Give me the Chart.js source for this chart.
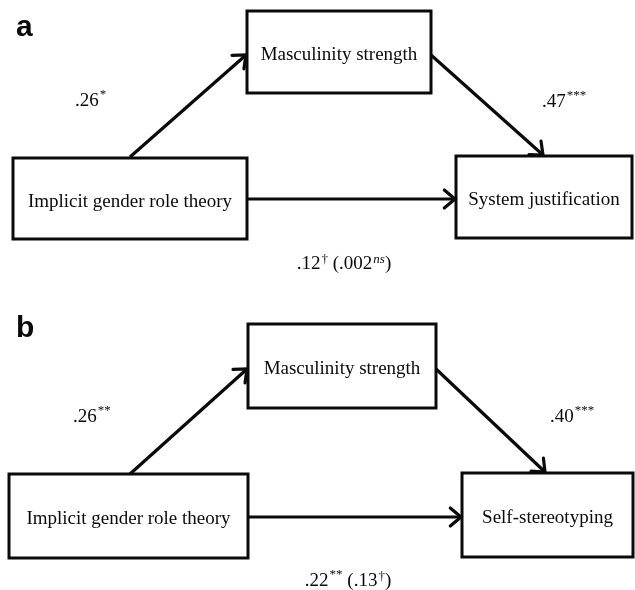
<!DOCTYPE html>
<html>
<head>
<meta charset="utf-8">
<script src="https://cdn.jsdelivr.net/npm/chart.js@4/dist/chart.umd.min.js"></script>
<style>
  html, body { margin: 0; padding: 0; background: #ffffff; }
  #c { display: block; }
</style>
</head>
<body>
<canvas id="c" width="635" height="590"></canvas>
<script>
// ---------- data ----------
const panelLetters    = ['a', 'b'];
const predictorLabels = ['Implicit gender role theory', 'Implicit gender role theory'];
const mediatorLabels  = ['Masculinity strength', 'Masculinity strength'];
const outcomeLabels   = ['System justification', 'Self-stereotyping'];
const pathAValues     = ['.26', '.26'];
const pathAStars      = ['*', '**'];
const pathBValues     = ['.47', '.40'];
const pathBStars      = ['***', '***'];
const totalValues     = ['.12', '.22'];
const totalStars      = ['\u2020', '**'];
const directValues    = ['.002', '.13'];
const directStars     = ['ns', '\u2020'];

// ---------- layout (diagram coordinates, y grows downward) ----------
const layout = [
  {
    letter: [16, 36],
    pred: [13, 158, 247, 239], med: [247, 11, 431, 93], out: [456, 156, 632, 238],
    arrows: [[[130, 157], [246, 55]], [[431, 55], [543, 155]], [[247, 199], [455, 199]]],
    aLab: [75, 106], bLab: [542, 107], cLab: [344, 269]
  },
  {
    letter: [16, 337],
    pred: [9, 474, 248, 558], med: [248, 324, 436, 408], out: [462, 473, 633, 557],
    arrows: [[[130, 474], [247, 369]], [[436, 369], [545, 472]], [[248, 517], [461, 517]]],
    aLab: [73, 422], bLab: [550, 422], cLab: [348, 586]
  }
];

const SERIF = '"Liberation Serif", "Times New Roman", serif';
const INK = '#0a0a0a';

function boxPts(r) {
  return [{x:r[0],y:r[1]},{x:r[2],y:r[1]},{x:r[2],y:r[3]},{x:r[0],y:r[3]},{x:r[0],y:r[1]}];
}

const datasets = [];
layout.forEach(p => {
  [p.pred, p.med, p.out].forEach(r => datasets.push({
    data: boxPts(r), showLine: true, borderColor: INK, borderWidth: 3,
    pointRadius: 0, borderJoinStyle: 'miter', borderCapStyle: 'square', tension: 0
  }));
  p.arrows.forEach(a => datasets.push({
    data: [{x:a[0][0],y:a[0][1]},{x:a[1][0],y:a[1][1]}], showLine: true,
    borderColor: INK, borderWidth: 3.2, pointRadius: 0, borderCapStyle: 'butt'
  }));
});

function segs(val, stars, extra, extraStars) {
  const s = [{t: val}, {t: stars, sup: true}];
  if (extra !== undefined) {
    s.push({t: ' (' + extra});
    s.push({t: extraStars, sup: true, italic: extraStars === 'ns'});
    s.push({t: ')'});
  }
  return s;
}

function drawRich(ctx, parts, x, y, align) {
  const mainFont = '19px ' + SERIF;
  const supFont = p => (p.italic ? 'italic ' : '') + '13px ' + SERIF;
  const widths = parts.map(p => {
    ctx.font = p.sup ? supFont(p) : mainFont;
    return ctx.measureText(p.t).width + (p.sup ? 1 : 0);
  });
  const total = widths.reduce((a, b) => a + b, 0);
  let cx = align === 'center' ? x - total / 2 : x;
  parts.forEach((p, i) => {
    ctx.font = p.sup ? supFont(p) : mainFont;
    const raise = p.sup ? (p.t.indexOf('*') >= 0 ? 8 : 6) : 0;
    ctx.fillText(p.t, cx + (p.sup ? 1 : 0), y - raise);
    cx += widths[i];
  });
}

const diagramPlugin = {
  id: 'diagram',
  afterDatasetsDraw(chart) {
    const ctx = chart.ctx;
    const X = v => chart.scales.x.getPixelForValue(v);
    const Y = v => chart.scales.y.getPixelForValue(v);
    ctx.save();
    ctx.fillStyle = INK;
    ctx.strokeStyle = INK;
    layout.forEach((p, i) => {
      // arrowheads (open chevrons)
      p.arrows.forEach(a => {
        const x1 = X(a[0][0]), y1 = Y(a[0][1]), x2 = X(a[1][0]), y2 = Y(a[1][1]);
        const ang = Math.atan2(y2 - y1, x2 - x1);
        const L = 14, spread = 0.7;
        ctx.lineWidth = 3.2;
        ctx.lineCap = 'round';
        ctx.lineJoin = 'miter';
        ctx.beginPath();
        ctx.moveTo(x2 - L * Math.cos(ang - spread), y2 - L * Math.sin(ang - spread));
        ctx.lineTo(x2, y2);
        ctx.lineTo(x2 - L * Math.cos(ang + spread), y2 - L * Math.sin(ang + spread));
        ctx.stroke();
      });
      // panel letter
      ctx.font = 'bold 30px "Liberation Sans", Arial, sans-serif';
      ctx.textAlign = 'left';
      ctx.textBaseline = 'alphabetic';
      ctx.fillText(panelLetters[i], X(p.letter[0]), Y(p.letter[1]));
      // box labels
      ctx.font = '19px ' + SERIF;
      ctx.textAlign = 'center';
      [[p.pred, predictorLabels[i]], [p.med, mediatorLabels[i]], [p.out, outcomeLabels[i]]].forEach(([r, t]) => {
        ctx.fillText(t, X((r[0] + r[2]) / 2), Y((r[1] + r[3]) / 2) + 8);
      });
      // coefficients
      ctx.textAlign = 'left';
      drawRich(ctx, segs(pathAValues[i], pathAStars[i]), X(p.aLab[0]), Y(p.aLab[1]), 'left');
      drawRich(ctx, segs(pathBValues[i], pathBStars[i]), X(p.bLab[0]), Y(p.bLab[1]), 'left');
      drawRich(ctx, segs(totalValues[i], totalStars[i], directValues[i], directStars[i]), X(p.cLab[0]), Y(p.cLab[1]), 'center');
    });
    ctx.restore();
  }
};

new Chart(document.getElementById('c'), {
  type: 'scatter',
  data: { datasets },
  options: {
    responsive: false,
    maintainAspectRatio: false,
    animation: false,
    layout: { padding: 0 },
    plugins: { legend: { display: false }, tooltip: { enabled: false } },
    scales: {
      x: { type: 'linear', min: 0, max: 635, display: false },
      y: { type: 'linear', min: 0, max: 590, reverse: true, display: false }
    },
    elements: { line: { fill: false } }
  },
  plugins: [diagramPlugin]
});
</script>
</body>
</html>
